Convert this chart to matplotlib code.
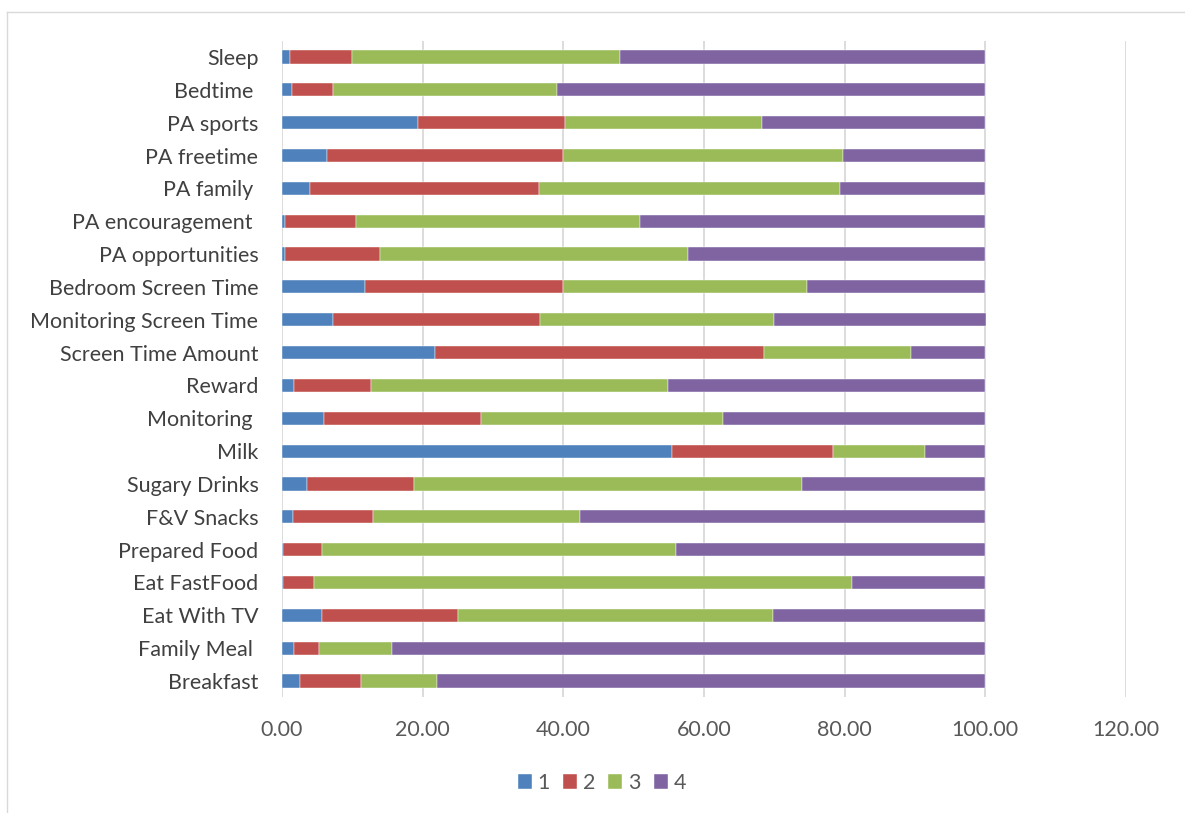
import matplotlib
matplotlib.use('Agg')
import matplotlib.pyplot as plt
from matplotlib.lines import Line2D

# === Data (bottom to top as in the chart) ===
categories = ['Breakfast', 'Family Meal ', 'Eat With TV', 'Eat FastFood', 'Prepared Food',
              'F&V Snacks', 'Sugary Drinks', 'Milk', 'Monitoring ', 'Reward',
              'Screen Time Amount', 'Monitoring Screen Time', 'Bedroom Screen Time',
              'PA opportunities', 'PA encouragement ', 'PA family ', 'PA freetime',
              'PA sports', 'Bedtime ', 'Sleep']

s1 = [2.5, 1.7, 5.7, 0.2, 0.2, 1.6, 3.5, 55.4, 6.0, 1.7,
      21.8, 7.3, 11.8, 0.4, 0.4, 4.0, 6.4, 19.4, 1.4, 1.2]
s2 = [8.8, 3.6, 19.3, 4.4, 5.5, 11.3, 15.3, 22.9, 22.3, 11.0,
      46.7, 29.4, 28.2, 13.5, 10.1, 32.5, 33.5, 20.9, 5.9, 8.8]
s3 = [10.8, 10.4, 44.8, 76.4, 50.3, 29.4, 55.1, 13.1, 34.4, 42.2,
      21.0, 33.2, 34.7, 43.8, 40.4, 42.8, 39.8, 27.9, 31.8, 38.1]
s4 = [77.9, 84.3, 30.2, 19.0, 44.0, 57.7, 26.1, 8.6, 37.3, 45.1,
      10.5, 30.2, 25.3, 42.3, 49.1, 20.7, 20.3, 31.8, 60.9, 51.9]

series_names = ['1', '2', '3', '4']
colors = ['#4F81BD', '#C0504D', '#9BBB59', '#8064A2']
xticks = [0, 20, 40, 60, 80, 100, 120]

plt.rcParams['font.family'] = ['Lato', 'DejaVu Sans']
fs = 15.5

fig = plt.figure(figsize=(11.85, 8.13), dpi=100)
ax = fig.add_axes([282 / 1185, 1 - 697.4 / 813, 844 / 1185, 656.8 / 813])

# rangka luar chart
fig.add_artist(Line2D([7 / 1185, 1], [1 - 12 / 813, 1 - 12 / 813], color='#D9D9D9', lw=1))
fig.add_artist(Line2D([7 / 1185, 7 / 1185], [0, 1 - 12 / 813], color='#D9D9D9', lw=1))

ypos = list(range(len(categories)))
left = [0.0] * len(categories)
for name, vals, c in zip(series_names, [s1, s2, s3, s4], colors):
    ax.barh(ypos, vals, left=left, height=0.4, color=c, edgecolor='white',
            linewidth=0.3, label=name, zorder=3)
    left = [l + v for l, v in zip(left, vals)]

ax.set_xlim(0, 120)
ax.set_ylim(-0.5, len(categories) - 0.5)
ax.set_xticks(xticks)
ax.set_xticklabels([f'{t:.2f}' for t in xticks])
ax.set_yticks(ypos)
ax.set_yticklabels(categories)
ax.tick_params(axis='x', length=0, pad=16.5, labelsize=fs, labelcolor='#595959')
ax.tick_params(axis='y', length=0, pad=17, labelsize=fs, labelcolor='#404040')
ax.grid(axis='x', color='#D9D9D9', linewidth=1.3, zorder=0)
for sp in ax.spines.values():
    sp.set_visible(False)

fig.legend(loc='center', bbox_to_anchor=(602 / 1185, 1 - 783 / 813), ncol=4,
           frameon=False, fontsize=fs, labelcolor='#595959', handlelength=0.65,
           handleheight=0.65, handletextpad=0.28, columnspacing=0.6)

fig.savefig('out.png', dpi=100)
